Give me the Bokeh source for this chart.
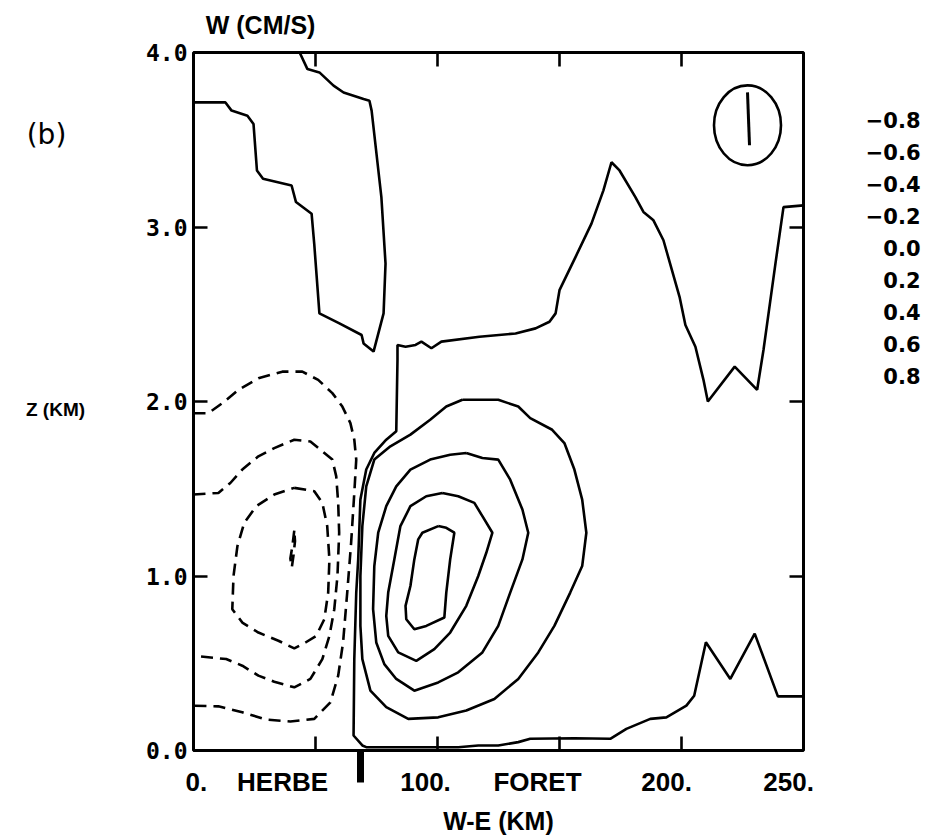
from bokeh.plotting import figure
from bokeh.models import FixedTicker, LinearAxis, Range1d
from bokeh.layouts import row
from bokeh.core.properties import value
from bokeh.embed import file_html
from bokeh.resources import INLINE

# ---------------- data (km, km) ----------------
levels = [-0.8, -0.6, -0.4, -0.2, 0.0, 0.2, 0.4, 0.6, 0.8]

x_minor_ticks = [50, 100, 150, 200]
# bottom labels as printed (numbers sit a little left of their ticks)
x_label_km = [1.2, 36.5, 95.1, 141.0, 193.9, 243.9]
x_label_text = ["0.", "HERBE", "100.", "FORET", "200.", "250."]
y_tick_values = [0, 1, 2, 3, 4]
y_tick_labels = ["0.0", "1.0", "2.0", "3.0", "4.0"]
y_right_ticks = [1, 2, 3]
boundary_km = 68.5          # HERBE / FORET boundary mark
title_km = 27.5             # centre of the "W (CM/S)" heading

# zero contour, upper-left
zero_a_x = [0, 13.1, 15.6, 22.1, 24.6, 26.0, 28.5, 40.2, 42.0, 48.4, 49.5, 51.6, 59.8, 68.9, 69.7, 73.8,
            77.9, 78.7, 77.0, 73.0, 72.1, 69.7, 61.5, 57.4, 51.6, 46.7, 43.5]
zero_a_z = [3.714, 3.714, 3.667, 3.638, 3.59, 3.324, 3.276, 3.238, 3.143, 3.076, 2.9, 2.505, 2.448, 2.381,
            2.333, 2.286, 2.505, 2.79, 3.171, 3.667, 3.724, 3.733, 3.771, 3.81, 3.886, 3.905, 4.0]

# zero contour, main
zero_b_x = [250, 241.8, 238.5, 233.6, 231.0, 221.8, 210.8, 209.0, 205.7, 201.6, 199.2, 192.6, 188.5, 184.4,
            181.1, 174.6, 171.3, 168.0, 163.1, 156.6, 150.0, 148.4, 145.9, 140.2, 132.0, 117.2, 101.6,
            97.5, 93.4, 91.0, 86.9, 83.6, 83.6, 83.1, 79.0, 74.1, 70.8, 68.4, 67.5, 66.7, 65.9, 65.6,
            69.2, 70.8, 92.1, 108.5, 116.7, 124.9, 133.1, 138.0, 156.1, 170.8, 177.4, 187.2, 193.8,
            202.0, 205.2, 210.0, 220.0, 230.0, 239.5, 250]
zero_b_z = [3.124, 3.114, 2.79, 2.295, 2.067, 2.2, 2.0, 2.124, 2.314, 2.438, 2.6, 2.924, 3.038, 3.086,
            3.171, 3.324, 3.371, 3.21, 3.019, 2.829, 2.638, 2.505, 2.457, 2.419, 2.39, 2.371, 2.343,
            2.305, 2.343, 2.324, 2.314, 2.324, 2.238, 1.829, 1.781, 1.705, 1.61, 1.438, 1.095, 0.905,
            0.524, 0.086, 0.029, 0.019, 0.019, 0.019, 0.029, 0.029, 0.048, 0.067, 0.07, 0.067, 0.124,
            0.181, 0.19, 0.257, 0.314, 0.62, 0.41, 0.67, 0.31, 0.31]

# positive contours (closed)
pos02_x = [110.2, 124.9, 133.1, 138.0, 147.0, 152.0, 156.1, 159.3, 161.0, 159.3, 154.4, 147.9, 141.3,
           133.1, 123.3, 111.8, 100.3, 88.0, 79.0, 72.5, 69.2, 68.4, 68.4, 69.2, 70.8, 74.1, 80.7, 88.9,
           97.0, 103.6, 110.2]
pos02_z = [2.01, 2.01, 1.971, 1.905, 1.838, 1.762, 1.61, 1.438, 1.248, 1.057, 0.905, 0.714, 0.562, 0.41,
           0.295, 0.229, 0.19, 0.181, 0.248, 0.343, 0.524, 0.714, 1.0, 1.286, 1.514, 1.667, 1.743, 1.81,
           1.895, 1.971, 2.01]
pos04_x = [111.8, 118.4, 124.9, 129.8, 134.8, 137.2, 134.8, 129.8, 124.9, 118.4, 108.5, 100.3, 90.5,
           83.1, 78.2, 74.9, 73.6, 74.1, 75.7, 79.0, 83.1, 88.9, 97.0, 105.2, 111.8]
pos04_z = [1.705, 1.676, 1.667, 1.552, 1.381, 1.248, 1.095, 0.905, 0.714, 0.562, 0.448, 0.39, 0.343,
           0.41, 0.495, 0.619, 0.81, 1.057, 1.248, 1.4, 1.514, 1.61, 1.667, 1.695, 1.705]
pos06_x = [102.0, 108.5, 115.1, 118.4, 122.5, 120.0, 116.7, 111.8, 105.2, 98.7, 91.3, 83.9, 79.8, 79.0,
           79.8, 82.3, 84.8, 88.9, 95.4, 102.0]
pos06_z = [1.476, 1.457, 1.419, 1.343, 1.248, 1.133, 1.0, 0.829, 0.676, 0.581, 0.514, 0.562, 0.657,
           0.771, 0.905, 1.095, 1.286, 1.4, 1.457, 1.476]
pos08_x = [100.3, 103.6, 106.9, 105.2, 103.6, 102.8, 95.4, 90.5, 87.2, 86.9, 88.9, 90.5, 92.1, 93.8, 100.3]
pos08_z = [1.286, 1.276, 1.248, 1.095, 0.905, 0.762, 0.714, 0.695, 0.752, 0.829, 0.943, 1.095, 1.21,
           1.248, 1.286]

# negative contours (dashed)
neg02_x = [0, 6.1, 11.8, 18.4, 26.6, 36.4, 44.6, 51.1, 56.9, 61.0, 64.3, 65.9, 66.7, 65.9, 64.6, 63.0,
           61.3, 59.3, 56.1, 49.5, 39.7, 29.8, 20.0, 10.2, 0]
neg02_z = [1.933, 1.933, 1.99, 2.067, 2.133, 2.171, 2.171, 2.124, 2.048, 1.971, 1.876, 1.781, 1.667,
           1.476, 1.19, 0.905, 0.619, 0.429, 0.276, 0.181, 0.166, 0.177, 0.219, 0.253, 0.257]
neg04_x = [0, 10.2, 15.1, 20.0, 26.6, 33.1, 41.3, 47.9, 52.0, 56.9, 58.5, 59.3, 59.7, 59.0, 57.7, 55.7,
           52.8, 47.9, 41.3, 33.1, 26.6, 20.0, 13.4, 0]
neg04_z = [1.467, 1.476, 1.533, 1.61, 1.686, 1.733, 1.781, 1.771, 1.724, 1.667, 1.571, 1.419, 1.248, 1.0,
           0.81, 0.657, 0.524, 0.41, 0.362, 0.394, 0.429, 0.486, 0.524, 0.543]
neg06_x = [41.3, 49.5, 52.8, 54.8, 55.7, 55.2, 53.6, 50.3, 45.9, 41.3, 34.8, 26.6, 20.0, 15.9, 16.4,
           18.0, 20.8, 25.7, 33.1, 41.3]
neg06_z = [1.505, 1.486, 1.419, 1.286, 1.095, 0.905, 0.752, 0.657, 0.619, 0.585, 0.629, 0.676, 0.733,
           0.81, 1.0, 1.171, 1.305, 1.4, 1.467, 1.505]
neg08_x = [41.3, 40.5, 39.7, 40.3, 41.0, 41.6, 41.3]
neg08_z = [1.26, 1.17, 1.10, 1.05, 1.12, 1.20, 1.26]

# ---------------- layout (page pixels) ----------------
PAGE_W, PAGE_H = 929, 837
LEFT_W, RIGHT_W = 140, 76
FL, FR, FT, FB = 193, 803, 52, 752          # plot frame edges on the page
MAIN_W = PAGE_W - LEFT_W - RIGHT_W
X0, X1, Y0, Y1 = 0, 250, 0, 4
LW = 2.6


def text_panel(width):
    # side panel whose frame spans the same rows as the main frame; y in page pixels
    f = figure(width=width, height=PAGE_H, x_range=Range1d(0, width), y_range=Range1d(FB, FT),
               output_backend="svg", toolbar_location=None, x_axis_location=None,
               y_axis_location=None, min_border_left=0, min_border_right=0,
               min_border_top=FT, min_border_bottom=PAGE_H - FB, outline_line_color=None)
    f.background_fill_color = "white"
    f.border_fill_color = "white"
    f.grid.grid_line_color = None
    return f


p = figure(width=MAIN_W, height=PAGE_H, x_range=Range1d(X0, X1), y_range=Range1d(Y0, Y1),
           output_backend="svg", toolbar_location=None,
           x_axis_location=None, y_axis_location=None,
           min_border_left=FL - LEFT_W, min_border_right=LEFT_W + MAIN_W - FR,
           min_border_top=FT, min_border_bottom=PAGE_H - FB)
p.background_fill_color = "white"
p.border_fill_color = "white"
p.outline_line_color = "black"
p.outline_line_width = 3
p.grid.grid_line_color = None

# bottom: inward ticks + thick boundary mark
bottom_ticks = LinearAxis(ticker=FixedTicker(ticks=[boundary_km], minor_ticks=x_minor_ticks),
                          major_label_overrides={boundary_km: ""}, major_label_text_font_size="1px",
                          major_label_standoff=0, axis_line_color=None,
                          major_tick_in=0, major_tick_out=32, major_tick_line_width=7,
                          minor_tick_in=14, minor_tick_out=0, minor_tick_line_width=LW)
# bottom: printed labels and axis title
bottom_labels = LinearAxis(ticker=FixedTicker(ticks=x_label_km),
                           major_label_overrides={v: t for v, t in zip(x_label_km, x_label_text)},
                           major_label_standoff=-16, axis_line_color=None,
                           major_tick_in=0, major_tick_out=0, major_tick_line_color=None,
                           minor_tick_line_color=None,
                           major_label_text_font="Liberation Sans", major_label_text_font_style="bold",
                           major_label_text_font_size="26px", major_label_text_color="black",
                           axis_label="W-E (KM)", axis_label_standoff=7,
                           axis_label_text_font="Liberation Sans", axis_label_text_font_style="bold",
                           axis_label_text_font_size="25px", axis_label_text_color="black")
top = LinearAxis(ticker=FixedTicker(ticks=[title_km], minor_ticks=x_minor_ticks),
                 major_label_overrides={title_km: "W (CM/S)"}, major_label_standoff=14,
                 major_label_text_font="Liberation Sans", major_label_text_font_style="bold",
                 major_label_text_font_size="25px", major_label_text_color="black",
                 axis_line_color=None, major_tick_in=0, major_tick_out=0, major_tick_line_color=None,
                 minor_tick_in=14, minor_tick_out=0, minor_tick_line_width=LW)
left = LinearAxis(ticker=FixedTicker(ticks=y_tick_values),
                  major_label_overrides={v: t for v, t in zip(y_tick_values, y_tick_labels)},
                  axis_line_color=None, major_tick_in=14, major_tick_out=0, major_tick_line_width=LW,
                  minor_tick_line_color=None, major_label_standoff=6,
                  major_label_text_font="DejaVu Sans Mono", major_label_text_font_style="bold",
                  major_label_text_font_size="23px", major_label_text_color="black")
right = LinearAxis(ticker=FixedTicker(ticks=y_right_ticks), major_label_text_font_size="1px",
                   major_label_overrides={v: "" for v in y_right_ticks},
                   axis_line_color=None, major_tick_in=14, major_tick_out=0, major_tick_line_width=LW,
                   minor_tick_line_color=None)
p.add_layout(bottom_ticks, "below")
p.add_layout(bottom_labels, "below")
p.add_layout(top, "above")
p.add_layout(left, "left")
p.add_layout(right, "right")

# ---------------- contours ----------------
solid_xs = [zero_a_x, zero_b_x, pos02_x, pos04_x, pos06_x, pos08_x]
solid_zs = [zero_a_z, zero_b_z, pos02_z, pos04_z, pos06_z, pos08_z]
dash_xs = [neg02_x, neg04_x, neg06_x, neg08_x]
dash_zs = [neg02_z, neg04_z, neg06_z, neg08_z]
p.multi_line(solid_xs, solid_zs, line_color="black", line_width=LW)
p.multi_line(dash_xs, dash_zs, line_color="black", line_width=LW, line_dash="12 7")


def px(xp, yp):
    """page pixel -> data position inside the frame (symbol only)"""
    return (X0 + (xp - FL) / (FR - FL) * (X1 - X0), Y0 + (FB - yp) / (FB - FT) * (Y1 - Y0))


# symbol in the upper-right corner (ellipse with a bar)
sym_x, sym_z = px(747, 125)
sym_w = 67 / (FR - FL) * (X1 - X0)
sym_h = 80 / (FB - FT) * (Y1 - Y0)
p.ellipse(x=[sym_x], y=[sym_z], width=[sym_w], height=[sym_h], fill_color=None,
          line_color="black", line_width=LW)
bx0, bz0 = px(747, 92)
bx1, bz1 = px(749, 145)
p.line([bx0, bx1], [bz0, bz1], line_color="black", line_width=3)

# ---------------- side panels with free text ----------------
lp = text_panel(LEFT_W)
lp.text(x=[46], y=[134], text=["(b)"], text_font=value("DejaVu Sans"), text_font_size=value("28px"),
        text_align="center", text_baseline="middle", text_color="black")
lp.text(x=[55], y=[410], text=["Z (KM)"], text_font=value("Liberation Sans"),
        text_font_size=value("19px"), text_font_style="bold", text_align="center",
        text_baseline="middle", text_color="black")

rp = text_panel(RIGHT_W)
legend_text = [f"{v:.1f}".replace("-", "\u2212") for v in levels]
legend_y = [120 + 32 * i for i in range(len(levels))]
rp.text(x=[920 - (LEFT_W + MAIN_W)] * len(levels), y=legend_y, text=legend_text,
        text_font=value("DejaVu Sans"), text_font_size=value("21px"), text_font_style="bold",
        text_align="right", text_baseline="middle", text_color="black")

layout = row(lp, p, rp)
open("out.html", "w").write(file_html(layout, INLINE))
